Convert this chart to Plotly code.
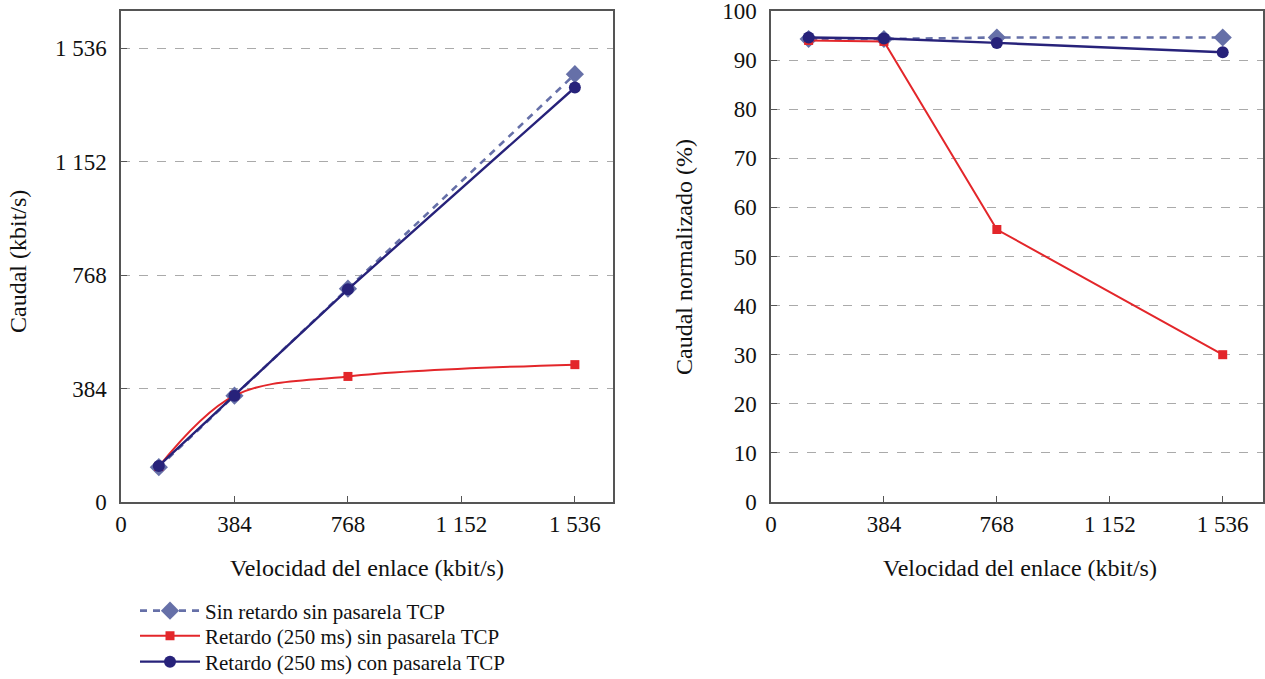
import plotly.graph_objects as go

# Data
link_speed = [128, 384, 768, 1536]
x_ticks = [0, 384, 768, 1152, 1536]
x_tick_labels = ["0", "384", "768", "1 152", "1 536"]
y_left_ticks = [0, 384, 768, 1152, 1536]
y_left_labels = ["0", "384", "768", "1 152", "1 536"]
y_right_ticks = list(range(0, 101, 10))

names = ["Sin retardo sin pasarela TCP",
         "Retardo (250 ms) sin pasarela TCP",
         "Retardo (250 ms) con pasarela TCP"]

thr_no_delay = [118, 360, 722, 1448]
thr_delay_no_gw = [120, 360, 425, 465]
thr_delay_gw = [122, 360, 720, 1403]

norm_no_delay = [94.3, 94.3, 94.6, 94.6]
norm_delay_no_gw = [94.0, 93.8, 55.5, 30.0]
norm_delay_gw = [94.6, 94.4, 93.5, 91.6]

c_blue = "#6670A8"
c_red = "#E3262A"
c_navy = "#27227A"

W, H = 1265, 679
font = "Liberation Serif, Times New Roman, serif"

fig = go.Figure()

def add(x, y, name, color, dash, symbol, size, width, xa, ya, show, legend, shape="linear"):
    fig.add_trace(go.Scatter(
        x=x, y=y, name=name, mode="lines+markers",
        line=dict(color=color, dash=dash, width=width, shape=shape),
        marker=dict(color=color, symbol=symbol, size=size),
        xaxis=xa, yaxis=ya, showlegend=show, legend=legend))

blue_dash = "7px,6px"
add(link_speed, thr_no_delay, names[0], c_blue, blue_dash, "diamond", 14, 2.6, "x", "y", True, "legend")
add(link_speed, thr_delay_no_gw, names[1], c_red, "solid", "square", 9, 2, "x", "y", True, "legend2", shape="spline")
add(link_speed, thr_delay_gw, names[2], c_navy, "solid", "circle", 12, 2.4, "x", "y", True, "legend3")
add(link_speed, norm_no_delay, names[0], c_blue, blue_dash, "diamond", 14, 2.6, "x2", "y2", False, "legend")
add(link_speed, norm_delay_no_gw, names[1], c_red, "solid", "square", 9, 2, "x2", "y2", False, "legend2")
add(link_speed, norm_delay_gw, names[2], c_navy, "solid", "circle", 12, 2.4, "x2", "y2", False, "legend3")

ydom = [(H - 502) / H, (H - 11) / H]
axis_common = dict(showline=True, linecolor="#555555", linewidth=1.5, mirror=True,
                   ticks="inside", ticklen=6, tickcolor="#555555",
                   tickfont=dict(family=font, size=23, color="#111111"), zeroline=False,
                   ticklabeloverflow="allow", automargin=False)

def legend_at(row_y):
    return dict(x=135 / W, y=(H - row_y) / H, xanchor="left", yanchor="middle",
                font=dict(family=font, size=21, color="#111111"),
                bgcolor="rgba(0,0,0,0)", itemwidth=60)

fig.update_layout(
    width=W, height=H,
    margin=dict(l=0, r=0, t=0, b=0, autoexpand=False),
    paper_bgcolor="white", plot_bgcolor="white",
    font=dict(family=font, size=21, color="#111111"),
    xaxis=dict(domain=[121 / W, 613 / W], range=[0, 1665], tickvals=x_ticks,
               ticktext=x_tick_labels, showgrid=False, anchor="y",
               ticklabelstandoff=1, **axis_common),
    yaxis=dict(domain=ydom, range=[0, 1662], tickvals=y_left_ticks, ticktext=y_left_labels,
               showgrid=True, gridcolor="#AAAAAA", griddash="dash", gridwidth=1,
               anchor="x", ticklabelstandoff=8, **axis_common),
    xaxis2=dict(domain=[771 / W, 1263 / W], range=[0, 1673], tickvals=x_ticks,
                ticktext=x_tick_labels, showgrid=False, anchor="y2",
                ticklabelstandoff=1, **axis_common),
    yaxis2=dict(domain=ydom, range=[0, 100], tickvals=y_right_ticks,
                showgrid=True, gridcolor="#AAAAAA", griddash="dash", gridwidth=1,
                anchor="x2", ticklabelstandoff=8, **axis_common),
    legend=legend_at(611),
    legend2=legend_at(636),
    legend3=legend_at(662),
    annotations=[
        dict(text="Caudal (kbit/s)", x=18 / W, y=(H - 262) / H, xref="paper", yref="paper",
             xanchor="center", yanchor="middle",
             textangle=-90, showarrow=False, font=dict(family=font, size=24)),
        dict(text="Velocidad del enlace (kbit/s)", x=367 / W, y=(H - 568) / H, xref="paper",
             yref="paper", xanchor="center", yanchor="middle",
             showarrow=False, font=dict(family=font, size=24)),
        dict(text="Caudal normalizado (%)", x=684 / W, y=(H - 257) / H, xref="paper",
             yref="paper", xanchor="center", yanchor="middle",
             textangle=-90, showarrow=False, font=dict(family=font, size=24)),
        dict(text="Velocidad del enlace (kbit/s)", x=1020 / W, y=(H - 568) / H, xref="paper",
             yref="paper", xanchor="center", yanchor="middle",
             showarrow=False, font=dict(family=font, size=24)),
    ],
)

fig.write_html("out.html")
